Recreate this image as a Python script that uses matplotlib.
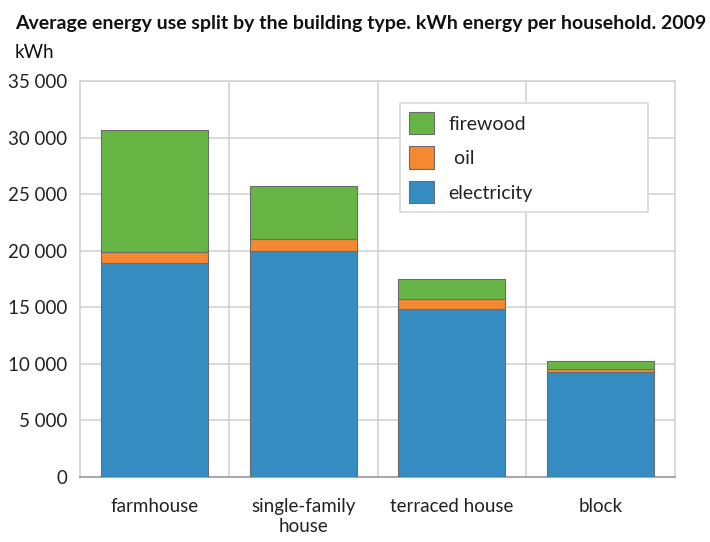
import matplotlib.pyplot as plt
import numpy as np

# values (kWh per household, 2009)
categories = ["farmhouse", "single-family\nhouse", "terraced house", "block"]
electricity = [18900, 20000, 14850, 9300]
oil = [1000, 1000, 900, 250]
firewood = [10800, 4700, 1750, 700]
yticks = [0, 5000, 10000, 15000, 20000, 25000, 30000, 35000]

plt.rcParams['font.family'] = ['Lato', 'DejaVu Sans']

fig = plt.figure(figsize=(7.1, 5.42), dpi=100)
ax = fig.add_axes([0.1127, 0.1199, 0.838, 0.7306])

x = np.arange(len(categories))
w = 0.72
edge = dict(edgecolor='#6b6b6b', linewidth=0.8)
oil_bottom = np.array(electricity)
wood_bottom = oil_bottom + np.array(oil)
b1 = ax.bar(x, electricity, w, color='#358cc1', label='electricity', zorder=3, **edge)
b2 = ax.bar(x, oil, w, bottom=oil_bottom, color='#f58932', label=' oil', zorder=3, **edge)
b3 = ax.bar(x, firewood, w, bottom=wood_bottom, color='#67b645', label='firewood', zorder=3, **edge)

ax.set_xlim(-0.5, len(categories) - 0.5)
ax.set_ylim(0, 35000)
ax.set_yticks(yticks)
ax.set_yticklabels([f"{v:,}".replace(",", " ") for v in yticks], fontsize=13.5, color='#222222')
ax.set_xticks(x)
ax.set_xticklabels(categories, fontsize=13.5, color='#222222', va='top', linespacing=1.25)
ax.set_xticks(np.arange(len(categories) - 1) + 0.5, minor=True)
ax.tick_params(axis='both', which='both', length=0)
ax.tick_params(axis='x', pad=15)
ax.tick_params(axis='y', pad=9)
ax.grid(axis='y', color='#d3d3d3', linewidth=1.2, zorder=0)
ax.grid(axis='x', which='minor', color='#d3d3d3', linewidth=1.2, zorder=0)
for s in ['top', 'right', 'left']:
    ax.spines[s].set_color('#d3d3d3')
    ax.spines[s].set_linewidth(1.2)
ax.spines['bottom'].set_color('#a8a8a8')
ax.spines['bottom'].set_linewidth(1.5)

leg = ax.legend(handles=[b3, b2, b1], loc='upper left',
                bbox_to_anchor=(0.538, 0.944 - 0.283, 0.417, 0.283), mode='expand',
                borderaxespad=0, fontsize=14, fancybox=False, edgecolor='#d8d8d8',
                framealpha=1, handlelength=1.3, handleheight=1.4, labelspacing=0.62,
                borderpad=0.45, handletextpad=0.75)
leg.get_frame().set_linewidth(1.2)
for t in leg.get_texts():
    t.set_color('#222222')

fig.text(0.021, 0.956, "Average energy use split by the building type. kWh energy per household. 2009",
         fontsize=14, fontweight='bold', color='#111111', va='center', ha='left')
fig.text(0.021, 0.903, "kWh", fontsize=13.5, color='#111111', va='center', ha='left')

fig.savefig("out.png", dpi=100)
